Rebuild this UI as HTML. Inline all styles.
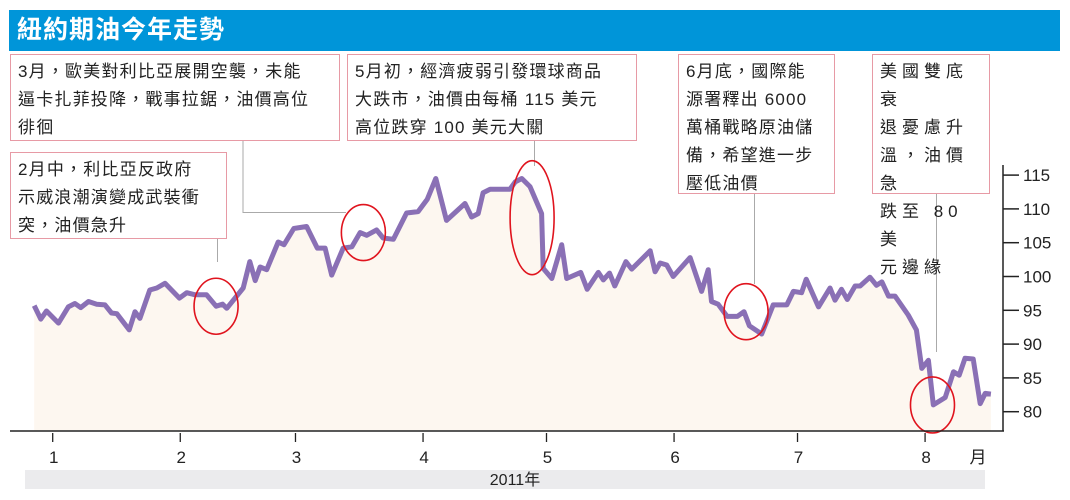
<!DOCTYPE html>
<html><head><meta charset="utf-8"><style>
body{margin:0;background:#fff;width:1070px;height:500px;overflow:hidden;position:relative;font-family:"Liberation Sans","Noto Sans CJK TC",sans-serif}
.title{position:absolute;left:9px;top:10px;width:1051px;height:41px;background:#0095d9;color:#fff;font-size:25px;font-weight:bold;line-height:41px;padding-left:8px;box-sizing:border-box;letter-spacing:1px}
.box{position:absolute;background:#fff;border:1px solid #e79aa5;font-size:17px;line-height:28px;padding:3px 0 0 7px;box-sizing:border-box;color:#222;letter-spacing:1.2px}
</style></head><body>
<svg width="1070" height="500" style="position:absolute;left:0;top:0">
<g id="lead" stroke="#aaa" stroke-width="1" fill="none">
<path d="M243 140V212.5H346"/>
<path d="M217.5 238V262"/>
<path d="M534.5 140V166"/>
<path d="M754.5 193V284"/>
<path d="M936.5 193V352"/>
</g>
<g id="plot"></g>
<rect x="25" y="470" width="960" height="19" fill="#ebebed"/>
<text x="515" y="485" font-size="16" text-anchor="middle" fill="#222" font-family="Liberation Sans Narrow, Liberation Sans, Noto Sans CJK TC, sans-serif">2011年</text>
</svg>
<div class="title">紐約期油今年走勢</div>
<div class="box" style="left:10px;top:54px;width:330px;height:87px">3月，歐美對利比亞展開空襲，未能<br>逼卡扎菲投降，戰事拉鋸，油價高位<br>徘徊</div>
<div class="box" style="left:10px;top:152px;width:217px;height:87px">2月中，利比亞反政府<br>示威浪潮演變成武裝衝<br>突，油價急升</div>
<div class="box" style="left:347px;top:54px;width:290px;height:87px">5月初，經濟疲弱引發環球商品<br>大跌市，油價由每桶 115 美元<br>高位跌穿 100 美元大關</div>
<div class="box" style="left:678px;top:54px;width:157px;height:140px">6月底，國際能<br>源署釋出 6000<br>萬桶戰略原油儲<br>備，希望進一步<br>壓低油價</div>
<div class="box" style="left:872px;top:54px;width:118px;height:140px;letter-spacing:5px">美國雙底衰<br>退憂慮升<br>溫，油價急<br>跌至 80 美<br>元邊緣</div>
<script>
const days=[-4.5,-2.9,-1.5,1.4,3.8,5.4,6.8,8.7,10.7,12.7,14.3,15.6,18.6,20.0,21.2,23.6,25.3,27.3,30.8,32.6,34.6,37.4,39.7,41.3,42.3,46.3,47.9,49.2,50.4,52.0,54.8,56.2,58.6,61.7,64.3,66.2,67.8,70.6,72.7,74.7,76.3,78.7,80.3,82.8,86.0,88.8,91.0,93.1,95.7,100.2,101.8,103.4,104.6,106.3,111.1,112.4,114.0,116.0,118.8,119.2,121.3,123.7,124.9,128.3,129.9,132.6,133.8,135.3,136.6,139.3,140.7,145.2,146.4,147.6,149.2,150.8,154.9,157.7,159.3,160.1,161.7,163.9,166.4,168.0,169.3,172.3,175.1,178.4,180.0,182.0,183.1,186.1,188.9,190.1,191.7,193.1,195.0,196.2,198.6,200.2,201.5,203.1,204.7,207.9,209.9,211.2,212.8,214.0,216.9,218.9,220.3,221.7,223.7,225.4,226.6,228.0];
const prices=[95.7,93.7,94.9,93.1,95.5,96.0,95.4,96.3,95.9,95.8,94.6,94.5,92.1,94.8,93.8,98.0,98.3,99.0,96.8,97.6,97.3,97.3,95.6,95.9,95.3,98.3,102.2,99.4,101.4,101.0,105.1,104.7,107.1,107.4,104.2,104.2,100.2,104.2,104.4,106.5,106.1,106.9,105.7,105.5,109.4,109.6,111.4,114.5,108.3,110.8,108.8,109.3,112.4,112.9,112.9,114.0,114.5,113.3,109.3,101.2,99.7,104.7,99.7,100.6,98.1,100.6,99.5,100.5,98.6,102.2,101.1,103.8,100.7,102.0,101.7,100.0,102.8,97.8,101.0,96.3,95.9,94.1,94.1,94.8,92.7,91.5,95.8,95.8,97.8,97.6,99.6,95.5,98.3,96.5,98.1,96.6,98.6,98.6,99.9,98.7,99.2,97.1,97.1,94.3,92.1,86.4,87.6,81.0,82.1,85.9,85.4,87.9,87.8,81.2,82.7,82.6];
const monthLabels=["1","2","3","4","5","6","7","8"];
const monthDays=[0,31,59,90,120,151,181,212];
const yTicks=[80,85,90,95,100,105,110,115];
const highlightDays=[39.7,75.5,116.5,168.5,213.8];
const NS="http://www.w3.org/2000/svg";
const X=d=>52.7+d*4.115;
const Y=v=>411.7-(v-80)*6.76;
const base=431;
const g=document.getElementById('plot');
function mk(t,a){const e=document.createElementNS(NS,t);for(const k in a)e.setAttribute(k,a[k]);g.appendChild(e);return e;}
let pts=days.map((d,i)=>X(d).toFixed(1)+','+Y(prices[i]).toFixed(1));
const area=mk('polygon',{points:X(days[0])+','+base+' '+pts.join(' ')+' '+X(days[days.length-1])+','+base,fill:'#fdf7f0'});


const line=mk('polyline',{points:pts.join(' '),fill:'none',stroke:'#8a70b5','stroke-width':5,'stroke-linejoin':'round'});


highlightDays.forEach((d,i)=>{
  let best=0;days.forEach((dd,j)=>{if(Math.abs(dd-d)<Math.abs(days[best]-d))best=j;});
  const tall=i===2;
  const cy=tall?Y(108.7):Y(prices[best]);
  const e=mk('ellipse',{cx:X(d),cy:cy,rx:22,ry:tall?57:28,fill:'none',stroke:'#e0141e','stroke-width':1.6});
  
  
});
const ax=mk('line',{x1:10,y1:base,x2:1004,y2:base,stroke:'#222','stroke-width':1.5});


const ay=mk('line',{x1:1003,y1:165,x2:1003,y2:base,stroke:'#222','stroke-width':1.5});


monthDays.forEach((d,i)=>{
  const t=mk('line',{x1:X(d),y1:base+2,x2:X(d),y2:base+11,stroke:'#222','stroke-width':1.3});
  
  
  const l=mk('text',{x:X(d)+1,y:463,'font-size':17,'text-anchor':'middle',fill:'#222'});
  l.textContent=monthLabels[i];
  
  
});
const mu=mk('text',{x:978,y:463,'font-size':17,'text-anchor':'middle',fill:'#222','font-family':'Noto Sans CJK TC, sans-serif'});
mu.textContent='月';


yTicks.forEach(v=>{
  const t=mk('line',{x1:1003,y1:Y(v),x2:1019,y2:Y(v),stroke:'#222','stroke-width':1.5});
  
  
  const l=mk('text',{x:1023,y:Y(v)+6,'font-size':17,fill:'#222'});
  l.textContent=v;
  
  
});
</script>
</body></html>
